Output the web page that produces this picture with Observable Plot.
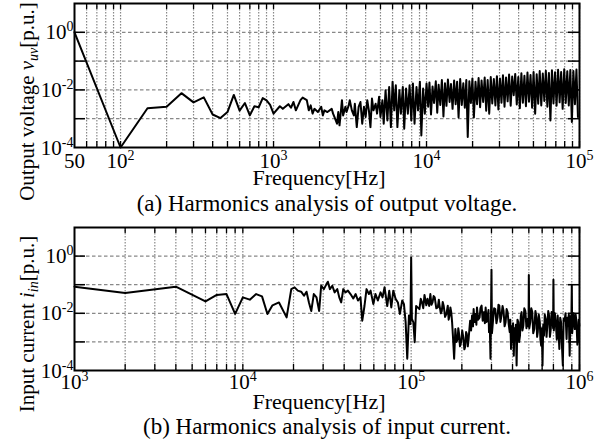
<!DOCTYPE html>
<html><head><meta charset="utf-8">
<script src="https://cdn.jsdelivr.net/npm/d3@7"></script>
<script src="https://cdn.jsdelivr.net/npm/@observablehq/plot@0.6"></script>
<style>
html,body{margin:0;padding:0;background:#fff;}
#chart svg{display:block;}
</style></head><body><div id="chart"></div>
<script>
// ---------- (a) output voltage harmonics ----------
const voltageFreq = [50,100,150,200,250,300,350,400,450,500,550,600,650,700,750,800,850,900,950,1000,
1100,1150,1250,1300,1350,1400,1500,1550,1650,1700,1750,1800,1850,1950,2050,2100,2150,2250,2400,2450,
2500,2600,2650,2700,2800,2850,2950,3000,3100,3150,3250,3350,3400,3500,3600,3700,3800,3900,4000,4100,
4200,4300,4400,4500,4650,4750,4900,5000,5150,5250,5400,5550,5700,5850,6000,6150,6300,6450,6650,6800,
7000,7150,7350,7550,7750,7950,8150,8350,8600,8800,9050,9250,9500,9750,10000,
10250,10450,10700,10950,11200,11500,11750,12000,12300,12600,12900,13200,13500,13800,14150,14450,14800,15150,15500,15850,
16200,16600,17000,17400,17800,18200,18600,19050,19500,19950,20400,20900,21400,21900,22400,22900,23450,24000,24550,25100,
25700,26300,26900,27550,28200,28850,29500,30200,30900,31600,32350,33100,33900,34650,35500,36300,37150,38000,38900,39800,
40750,41700,42650,43650,44650,45700,46750,47850,49000,50100,51300,52500,53700,54950,56250,57550,58900,60250,61650,63100,
64550,66050,67600,69200,70800,72450,74150,75850,77600,79450,81300,83200,85100,87100,89150,91200,93350,95500,97700];
const voltageMag = [1,1e-4,2.3e-3,2.6e-3,7.7e-3,3.7e-3,5.5e-3,1.4e-3,1.05e-3,1.7e-3,6.7e-3,1.9e-3,3.5e-3,1.3e-3,2.7e-3,2.5e-3,5.2e-3,4.3e-3,3.0e-3,1.5e-3,
2.7e-3,2.2e-3,3.2e-3,2.4e-3,3.8e-3,1.95e-3,4.4e-3,5.4e-3,4.4e-3,1.95e-3,2.9e-3,1.5e-3,2.2e-3,1.7e-3,2.6e-3,1.3e-3,1.95e-3,1.7e-3,2.2e-3,1.5e-3,
1.15e-3,6.7e-4,1.7e-3,5.9e-4,4.4e-3,1.3e-3,2.6e-3,1.7e-3,2.9e-3,4.4e-3,1.95e-3,1.3e-3,3.3e-3,5.1e-4,2.6e-3,3.8e-3,6.7e-4,2.6e-3,1.15e-3,4.4e-3,
1.95e-3,5.1e-4,5.0e-3,1.95e-3,3.3e-3,1.5e-3,5.8e-3,1.15e-3,4.4e-3,6.7e-4,9.8e-3,8.7e-4,1.26e-2,5.1e-4,1.9e-2,1.95e-3,1.45e-2,5.1e-4,9.8e-3,1.5e-3,
1.26e-2,4.5e-4,1.12e-2,1.5e-3,1.45e-2,8.7e-4,1.66e-2,6.7e-4,1.26e-2,1.95e-3,1.9e-2,2.6e-4,1.12e-2,1.5e-3,1.66e-2,
2.6e-3,1.8e-2,1.4e-3,1.3e-2,3.5e-3,2.0e-2,1.6e-3,1.5e-2,3.0e-3,2.2e-2,1.2e-3,1.7e-2,2.8e-3,2.3e-2,3.8e-3,1.6e-2,2.2e-3,2.1e-2,3.2e-3,1.9e-2,
1.1e-3,2.4e-2,3.0e-3,1.7e-2,2.4e-3,2.2e-2,2.3e-4,2.0e-2,3.5e-3,2.5e-2,1.1e-3,1.9e-2,3.2e-3,2.6e-2,2.5e-3,2.1e-2,3.8e-3,2.7e-2,1.9e-3,2.2e-2,
1.5e-3,2.8e-2,3.4e-3,2.4e-2,2.9e-3,3.0e-2,2.1e-3,2.5e-2,3.6e-3,3.2e-2,2.6e-3,2.7e-2,4.0e-3,3.4e-2,2.8e-3,2.9e-2,6.5e-3,3.6e-2,3.1e-3,2.8e-2,
2.3e-3,3.8e-2,3.6e-3,3.1e-2,2.7e-3,4.0e-2,3.9e-3,3.3e-2,2.4e-3,4.2e-2,1.5e-3,3.5e-2,3.3e-3,4.5e-2,2.9e-3,3.7e-2,4.1e-3,4.6e-2,2.6e-3,3.9e-2,
8.7e-4,4.8e-2,3.4e-3,4.1e-2,2.8e-3,5.0e-2,3.7e-3,4.2e-2,2.2e-3,5.2e-2,3.5e-3,4.4e-2,2.9e-3,4.9e-2,7.7e-4,4.5e-2,3.2e-3,5.1e-2,1.15e-3];

// ---------- (b) input current harmonics ----------
const currentFreq = [1000,2000,4000,6000,7000,8000,9000,10000,11000,12000,13000,14000,15000,16400,18200,19400,20300,21200,22200,23100,
23900,24700,25500,26400,27400,28400,29200,30300,31400,32000,32900,34000,35100,36400,37400,38400,39500,40700,42100,43600,
45300,46800,48300,50000,51200,52800,54300,56100,57400,59600,61400,63400,65800,67600,69500,72100,74100,76200,78300,80800,
83400,85700,88500,90600,92700,94800,97000,99000,100000,101000,103000,105000,107000,
112000,114000,116000,118000,120000,123000,125000,128000,130000,132000,134000,136000,138000,141000,144000,146000,147000,150000,152000,154000,
156000,159000,162000,165000,167000,169000,171000,173000,175000,177000,180000,183000,186000,189000,190500,192000,195000,198000,201000,204000,
207000,209000,212000,214000,217000,219000,222000,224000,227000,230000,233000,235000,238000,241000,244000,246000,250000,255000,258000,262000,
266000,271000,274000,277000,281000,285000,288000,290000,293000,296000,300000,302000,
307000,311000,316000,321000,326000,330000,334000,339000,344000,349000,354000,359000,364000,369000,374000,380000,385000,388000,392000,395000,
399000,403000,407000,411000,415000,419000,423000,428000,433000,438000,443000,448000,453000,458000,464000,470000,477000,484000,491000,498000,
500000,503000,510000,517000,524000,531000,539000,547000,555000,560000,565000,573000,581000,586000,592000,597000,603000,609000,615000,622000,
630000,637000,644000,652000,660000,667000,675000,683000,691000,697000,700000,704000,714000,725000,733000,742000,750000,759000,768000,777000,
786000,796000,805000,815000,826000,838000,846000,854000,864000,874000,885000,895000,900000,905000,921000,938000,949000,960000,971000,983000,
990000,998000];
const currentMag = [8.5e-2,5.1e-2,8.5e-2,2.6e-2,4.4e-2,4.7e-2,9.5e-3,3.6e-2,3.0e-2,4.7e-2,3.9e-2,9.5e-3,1.9e-2,2.4e-2,7.2e-3,7.0e-2,8.1e-2,6.2e-2,5.7e-2,4.1e-2,
5.7e-2,2.4e-2,1.2e-2,4.7e-2,3.6e-2,1.2e-2,9.2e-2,7.0e-2,1.05e-1,1.27e-1,7.0e-2,9.2e-2,5.4e-2,7.0e-2,3.6e-2,2.4e-2,7.0e-2,5.4e-2,6.2e-2,4.7e-2,
3.3e-2,4.7e-2,2.8e-2,3.6e-2,5.5e-3,1.8e-2,7.0e-2,4.7e-2,6.2e-2,2.1e-2,4.7e-2,2.8e-2,5.4e-2,3.6e-2,8.1e-2,1.8e-2,6.2e-2,1.6e-2,6.2e-2,3.2e-2,
2.4e-2,9.5e-3,2.8e-2,2.1e-2,4.9e-3,2.6e-4,8.3e-3,4.2e-3,0.9,6.3e-3,4.9e-3,9.8e-4,1.8e-2,
1.4e-2,3.2e-2,2.4e-2,1.5e-2,4.4e-2,1.9e-2,3.2e-2,1.8e-2,4.7e-2,2.0e-2,2.4e-2,4.0e-2,3.6e-2,1.5e-2,1.6e-2,3.0e-2,2.1e-2,1.0e-2,1.2e-2,2.5e-2,
1.85e-2,7.5e-3,9.5e-3,1.85e-2,6.0e-3,8.3e-3,1.6e-2,1.1e-2,5.0e-3,1.66e-3,2.6e-4,2.8e-3,1.0e-3,1.26e-3,3.0e-3,2.2e-3,7.0e-4,9.8e-4,2.5e-3,1.45e-3,
5.5e-4,6.5e-4,2.2e-3,1.9e-3,7.0e-4,1.1e-3,3.0e-3,5.5e-3,2.5e-3,8.3e-3,3.5e-3,1.4e-2,5.0e-3,9.5e-3,4.0e-3,1.6e-2,6.0e-3,7.2e-3,1.5e-2,1.85e-2,
5.5e-3,1.1e-2,4.5e-3,1.6e-2,5.0e-3,8.3e-3,1.3e-2,2.2e-3,4.0e-3,2.6e-4,0.33,2.0e-3,
6.3e-3,1.5e-2,1.4e-2,4.5e-3,7.2e-3,2.0e-2,1.85e-2,5.0e-3,8.3e-3,1.8e-2,1.2e-2,3.5e-3,4.9e-3,1.4e-2,1.1e-2,4.0e-3,2.2e-3,6.0e-3,5.7e-4,3.5e-3,
9.8e-4,4.5e-3,3.3e-4,3.0e-3,1.26e-3,4.0e-3,1.5e-4,6.0e-3,4.9e-3,1.0e-3,1.66e-3,8.0e-3,1.1e-2,2.5e-3,3.7e-3,1.5e-2,1.2e-2,3.0e-3,6.3e-3,3.5e-3,
0.22,3.0e-3,4.9e-3,1.5e-2,1.1e-2,2.0e-3,2.8e-3,1.2e-2,7.2e-3,1.5e-3,2.2e-3,9.0e-3,4.9e-3,1.2e-3,7.4e-4,3.0e-3,1.5e-4,4.0e-3,1.66e-3,9.0e-3,
6.3e-3,1.5e-3,3.7e-3,1.2e-2,8.3e-3,1.5e-3,2.8e-3,1.1e-2,6.3e-3,3.0e-3,0.15,2.5e-3,1.0e-2,3.7e-3,1.2e-3,8.3e-3,2.5e-3,5.7e-4,7.0e-3,4.9e-3,
8.0e-4,1.5e-4,6.5e-3,5.5e-3,1.0e-2,1.26e-3,7.0e-3,3.7e-3,9.0e-3,3.3e-4,8.0e-3,6.3e-3,0.1,2.0e-3,1.0e-2,2.8e-3,9.0e-3,4.9e-3,8.0e-4,1.26e-3,
6.0e-3,3.7e-3];

// ---------- axes / text ----------
const voltageXTicks = [50, 100, 1000, 10000, 100000];
const voltageXTickLabels = ["50", "10^2", "10^3", "10^4", "10^5"];
const currentXTicks = [1000, 10000, 100000, 1000000];
const currentXTickLabels = ["10^3", "10^4", "10^5", "10^6"];
const yTicks = [1, 0.01, 0.0001];
const yTickLabels = ["10^0", "10^-2", "10^-4"];
const yDecades = [0.001, 0.01, 0.1, 1];
const xLabel = "Frequency[Hz]";
const yLabels = ["Output voltage v_{uv}[p.u.]", "Input current i_{in}[p.u.]"];
const captions = ["(a) Harmonics analysis of output voltage.", "(b) Harmonics analysis of input current."];

const NS = "http://www.w3.org/2000/svg";
function minorTicks(lo, hi) {
  const out = [];
  for (let e = Math.floor(Math.log10(lo)); e < Math.round(Math.log10(hi)) + 1; e++)
    for (let m = 1; m < 10; m++) { const v = m * Math.pow(10, e); if (v > lo && v <= hi * 1.0001) out.push(v); }
  return out;
}
function richify(svg) {
  svg.querySelectorAll("text").forEach(t => {
    const s = t.textContent;
    let m = s.match(/^(\d+)\^(-?\d+)$/);
    if (m) {
      t.textContent = m[1];
      const sp = document.createElementNS(NS, "tspan");
      sp.setAttribute("dy", "-8"); sp.setAttribute("font-size", "14px"); sp.textContent = m[2];
      t.appendChild(sp);
      return;
    }
    m = s.match(/^(.*?)([a-z])_\{(\w+)\}(.*)$/);
    if (m) {
      t.textContent = m[1];
      const a = document.createElementNS(NS, "tspan");
      a.setAttribute("font-style", "italic"); a.textContent = m[2];
      const b = document.createElementNS(NS, "tspan");
      b.setAttribute("font-style", "italic"); b.setAttribute("font-size", "14px"); b.setAttribute("dy", "4"); b.textContent = m[3];
      const c = document.createElementNS(NS, "tspan");
      c.setAttribute("dy", "-4"); c.textContent = m[4];
      t.appendChild(a); t.appendChild(b); t.appendChild(c);
    }
  });
  return svg;
}

function panel(cfg) {
  const W = 615, L = 74, R = 36;
  const fh = cfg.height - cfg.mt - cfg.mb, fw = W - L - R;
  const data = cfg.freq.map((f, i) => ({f, v: cfg.mag[i]}));
  const minor = minorTicks(cfg.xDomain[0], cfg.xDomain[1]);
  const svg = Plot.plot({
    width: W, height: cfg.height,
    marginLeft: L, marginRight: R, marginTop: cfg.mt, marginBottom: cfg.mb,
    style: {fontFamily: "'Liberation Serif', 'Times New Roman', serif", fontSize: "21px", background: "#fff", color: "#000", overflow: "visible"},
    x: {type: "log", domain: cfg.xDomain, axis: null},
    y: {type: "log", domain: [1e-4, 10], axis: null},
    marks: [
      Plot.ruleX(minor, {x: d => d, stroke: "#888", strokeWidth: 1.2, strokeDasharray: "1.5,1.5"}),
      Plot.ruleY(yDecades, {y: d => d, stroke: "#888", strokeWidth: 1.2, strokeDasharray: "3.5,2.5"}),
      Plot.ruleX(minor, {x: d => d, insetTop: fh - 6, stroke: "#000", strokeWidth: 1.3}),
      Plot.ruleX(minor, {x: d => d, insetBottom: fh - 6, stroke: "#000", strokeWidth: 1.3}),
      Plot.ruleY(yDecades, {y: d => d, insetRight: fw - 11, stroke: "#000", strokeWidth: 1.5}),
      Plot.ruleY(yDecades, {y: d => d, insetLeft: fw - 11, stroke: "#000", strokeWidth: 1.5}),
      Plot.line(data, {x: "f", y: "v", stroke: "#000", strokeWidth: 2}),
      Plot.frame({stroke: "#000", strokeWidth: 2}),
      Plot.text(cfg.xTicks, {x: d => d, text: (d, i) => cfg.xTickLabels[i], frameAnchor: "bottom", textAnchor: "middle", lineAnchor: "bottom", dy: cfg.tickDy, fontSize: 21}),
      Plot.text(yTicks, {y: d => d, text: (d, i) => yTickLabels[i], frameAnchor: "left", textAnchor: "end", lineAnchor: "bottom", dx: -1, dy: 7, fontSize: 21}),
      Plot.text([xLabel], {text: d => d, frameAnchor: "bottom", textAnchor: "middle", lineAnchor: "bottom", dx: -8, dy: cfg.labelDy, fontSize: 22}),
      Plot.text([cfg.caption], {text: d => d, frameAnchor: "bottom", textAnchor: "middle", lineAnchor: "bottom", dy: cfg.captionDy, fontSize: 23}),
      Plot.text([cfg.yLabel], {text: d => d, frameAnchor: "left", textAnchor: "middle", rotate: -90, lineAnchor: "bottom", dx: -41, dy: cfg.yLabelDy, fontSize: 21})
    ]
  });
  return richify(svg);
}

const chart = document.getElementById("chart");
chart.appendChild(panel({
  freq: voltageFreq, mag: voltageMag, xDomain: [50, 100000],
  xTicks: voltageXTicks, xTickLabels: voltageXTickLabels,
  yLabel: yLabels[0], caption: captions[0],
  height: 215, mt: 3, mb: 68, tickDy: 20, labelDy: 37, captionDy: 63, yLabelDy: 26
}));
chart.appendChild(panel({
  freq: currentFreq, mag: currentMag, xDomain: [1000, 1000000],
  xTicks: currentXTicks, xTickLabels: currentXTickLabels,
  yLabel: yLabels[1], caption: captions[1],
  height: 227, mt: 12, mb: 72, tickDy: 18, labelDy: 38, captionDy: 63, yLabelDy: 25
}));
</script></body></html>
